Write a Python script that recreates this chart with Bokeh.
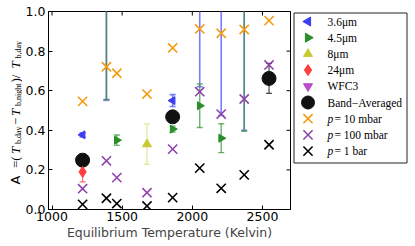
import math
from bokeh.plotting import figure
from bokeh.models import Range1d, FixedTicker, PrintfTickFormatter, ColumnDataSource
from bokeh.layouts import row
from bokeh.embed import file_html
from bokeh.resources import INLINE
from bokeh.core.properties import value

# ---------------- data ----------------
# model predictions (equilibrium temperature, amplitude)
teq_model = [1218, 1388, 1462, 1677, 1860, 2053, 2206, 2370, 2547]
a_10mbar = [0.546, 0.721, 0.688, 0.583, 0.816, 0.912, 0.890, 0.909, 0.954]
a_100mbar = [0.105, 0.246, 0.161, 0.085, 0.305, 0.595, 0.482, 0.558, 0.730]
a_1bar = [0.026, 0.057, 0.030, 0.018, 0.060, 0.209, 0.107, 0.175, 0.327]

# observations (value, symmetric error); points above 1 are off scale
teq_36 = [1218, 1860, 1388, 2053, 2206, 2370]
a_36 = [0.377, 0.550, 1.30, 1.30, 1.30, 1.30]
err_36 = [0.010, 0.030, 0.745, 0.680, 0.825, 0.900]

teq_45 = [1462, 1860, 2053, 2206, 2370, 1388]
a_45 = [0.350, 0.406, 0.524, 0.360, 1.30, 1.30]
err_45 = [0.026, 0.015, 0.110, 0.073, 0.905, 0.745]

teq_8 = [1677]
a_8 = [0.330]
err_8 = [0.102]

teq_24 = [1218]
a_24 = [0.190]
err_24 = [0.050]

teq_wfc3 = [1388]
a_wfc3 = [1.30]
err_wfc3 = [0.750]

teq_band = [1218, 1860, 2547]
a_band = [0.249, 0.468, 0.662]
err_band = [0.030, 0.020, 0.076]

x_ticks = [1000, 1500, 2000, 2500]
y_ticks = [0.0, 0.2, 0.4, 0.6, 0.8, 1.0]

legend_labels = ["3.6\u03bcm", "4.5\u03bcm", "8\u03bcm", "24\u03bcm", "WFC3",
                 "Band\u2212Averaged", "= 10 mbar", "= 100 mbar", "= 1 bar"]

# y-axis label pieces (A = (T_b,day - T_b,night) / T_b,day)
ylabel_text = ["A", "=(", "T", "b,day", "\u2212", "T", "b,night", ")/", "T", "b,day"]

# ---------------- styles ----------------
C36, E36 = "#3d3df2", "#5a5aff"
C45, E45 = "#2b8c2b", "#3a9a3a"
C8, E8 = "#c9c933", "#e2e28a"
C24, E24 = "#ff3f3f", "#ff5a5a"
CW = "#b84fc8"
CB = "#111111"
C10, C100, C1 = "#f39c12", "#8e44ad", "#000000"

SANS = "DejaVu Sans"
SERIF = "Liberation Serif"
FS = "12.5px"

X0, X1 = 975, 2700
Y0, Y1 = 0.0, 1.0
H = 246
BT, BB = 11, 37
W_LAB = 22
W_MAIN = 269
W_LEG = 415 - W_LAB - W_MAIN
frame_h = H - BT - BB

# ---------------- y label panel ----------------
lab = figure(width=W_LAB, height=H, output_backend="svg", toolbar_location=None,
             x_range=Range1d(0, W_LAB), y_range=Range1d(0, frame_h),
             x_axis_location=None, y_axis_location=None,
             min_border_left=0, min_border_right=0, min_border_top=BT, min_border_bottom=BB)
lab.grid.visible = False
lab.outline_line_color = None
lab_src = ColumnDataSource(dict(
    text=ylabel_text,
    x=[15.0, 15.0, 15.0, 18.0, 15.0, 15.0, 18.0, 15.0, 15.0, 18.0],
    y=[25.0, 41.5, 55.5, 65.5, 84.5, 93.5, 103.5, 127.0, 141.0, 151.0],
    font=[SANS] + [SERIF] * 9,
    size=["13px", "13px", "13px", "8px", "13px", "13px", "8px", "13px", "13px", "8px"],
    style=["normal", "normal", "italic", "normal", "normal", "italic", "normal", "normal", "italic", "normal"],
))
lab.text(x="x", y="y", text="text", source=lab_src, angle=math.pi / 2, text_font="font",
         text_font_size="size", text_font_style="style", text_align="left",
         text_baseline="alphabetic", text_color="black")

# ---------------- main plot ----------------
p = figure(width=W_MAIN, height=H, output_backend="svg", toolbar_location=None,
           x_range=Range1d(X0, X1), y_range=Range1d(Y0, Y1),
           min_border_left=24, min_border_right=1, min_border_top=BT, min_border_bottom=BB)
p.grid.visible = False
p.outline_line_color = "black"
p.outline_line_width = 1
p.background_fill_color = "white"
p.border_fill_color = "white"

for ax in (p.xaxis[0], p.yaxis[0]):
    ax.major_tick_in = 4
    ax.major_tick_out = 0
    ax.minor_tick_line_color = None
    ax.axis_line_color = "black"
    ax.major_tick_line_color = "black"
    ax.major_label_text_font = SANS
    ax.major_label_text_font_size = FS
    ax.major_label_text_color = "black"
p.xaxis[0].ticker = FixedTicker(ticks=x_ticks)
p.yaxis[0].ticker = FixedTicker(ticks=y_ticks)
p.yaxis[0].formatter = PrintfTickFormatter(format="%.1f")
p.xaxis[0].major_label_standoff = 2
p.yaxis[0].major_label_standoff = 3
p.xaxis[0].axis_label = "Equilibrium Temperature (Kelvin)"
p.xaxis[0].axis_label_text_font = SANS
p.xaxis[0].axis_label_text_font_size = FS
p.xaxis[0].axis_label_text_font_style = "normal"
p.xaxis[0].axis_label_standoff = 1

# inward ticks on top and right edges (half of each dash is clipped by the frame)
p.scatter(x=x_ticks, y=[Y1] * len(x_ticks), marker="dash", angle=math.pi / 2, size=8,
          line_color="black", line_width=1)
p.scatter(x=[X1] * len(y_ticks), y=y_ticks, marker="dash", size=8, line_color="black", line_width=1)


def errbars(x, a, e, color, alpha=0.8, width=1.2):
    lo = [v - d for v, d in zip(a, e)]
    hi = [v + d for v, d in zip(a, e)]
    p.segment(x0=x, y0=lo, x1=x, y1=hi, line_color=color, line_alpha=alpha, line_width=width)
    p.scatter(x=x, y=lo, marker="dash", size=6, line_color=color, line_alpha=alpha, line_width=width)
    p.scatter(x=x, y=hi, marker="dash", size=6, line_color=color, line_alpha=alpha, line_width=width)


# error bars
errbars(teq_band, a_band, err_band, "#333333", 0.9)
errbars(teq_wfc3, a_wfc3, err_wfc3, CW, 0.6)
errbars(teq_36, a_36, err_36, E36, 0.8, 1.6)
errbars(teq_45, a_45, err_45, E45, 0.75, 1.4)
errbars(teq_8, a_8, err_8, E8, 0.9)
errbars(teq_24, a_24, err_24, E24, 0.9)

# markers
p.scatter(teq_band, a_band, marker="circle", size=14, fill_color=CB, line_color=CB)
p.scatter(teq_36, a_36, marker="triangle", angle=math.pi / 2, size=8, fill_color=C36, line_color=C36)
p.scatter(teq_45, a_45, marker="triangle", angle=-math.pi / 2, size=8, fill_color=C45, line_color=C45)
p.scatter(teq_8, a_8, marker="triangle", size=9, fill_color=C8, line_color=C8)
p.scatter(teq_24, a_24, marker="diamond", size=11, fill_color=C24, line_color=C24)
p.scatter(teq_wfc3, a_wfc3, marker="inverted_triangle", size=9, fill_color=CW, line_color=CW)
p.scatter(teq_model, a_10mbar, marker="x", size=13, line_color=C10, line_width=1.6)
p.scatter(teq_model, a_100mbar, marker="x", size=13, line_color=C100, line_width=1.6)
p.scatter(teq_model, a_1bar, marker="x", size=13, line_color=C1, line_width=1.6)

# ---------------- legend panel ----------------
lf = figure(width=W_LEG, height=H, output_backend="svg", toolbar_location=None,
            x_range=Range1d(0, W_LEG), y_range=Range1d(frame_h, 0),
            x_axis_location=None, y_axis_location=None,
            min_border_left=0, min_border_right=0, min_border_top=BT, min_border_bottom=BB)
lf.grid.visible = False
lf.outline_line_color = None
lf.background_fill_color = "white"
lf.border_fill_color = "white"

# legend box (pixel units of the legend panel)
lf.quad(left=[2.5], right=[115.5], top=[1.5], bottom=[151.5], fill_color="white",
        line_color="#222222", line_width=1)

row_y = [10 + 16.2 * i for i in range(len(legend_labels))]
mx = [16.5] * len(legend_labels)
lf.scatter(mx[0:1], row_y[0:1], marker="triangle", angle=math.pi / 2, size=9, fill_color=C36, line_color=C36)
lf.scatter(mx[1:2], row_y[1:2], marker="triangle", angle=-math.pi / 2, size=9, fill_color=C45, line_color=C45)
lf.scatter(mx[2:3], row_y[2:3], marker="triangle", size=9, fill_color=C8, line_color=C8)
lf.scatter(mx[3:4], row_y[3:4], marker="diamond", size=11, fill_color=C24, line_color=C24)
lf.scatter(mx[4:5], row_y[4:5], marker="inverted_triangle", size=9, fill_color=CW, line_color=CW)
lf.scatter(mx[5:6], row_y[5:6], marker="circle", size=13, fill_color=CB, line_color=CB)
lf.scatter(mx[6:7], row_y[6:7], marker="x", size=13, line_color=C10, line_width=1.6)
lf.scatter(mx[7:8], row_y[7:8], marker="x", size=13, line_color=C100, line_width=1.6)
lf.scatter(mx[8:9], row_y[8:9], marker="x", size=13, line_color=C1, line_width=1.6)

tx = [36] * 6 + [43] * 3
lf.text(x=tx, y=row_y, text=legend_labels, text_font=value(SERIF), text_font_size="11.5px",
        text_baseline="middle", text_align="left", text_color="black")
lf.text(x=[36] * 3, y=row_y[6:], text=["p"] * 3, text_font=value(SERIF), text_font_size="11.5px",
        text_font_style="italic", text_baseline="middle", text_align="left", text_color="black")

layout = row(lab, p, lf)
open("out.html", "w").write(file_html(layout, INLINE))
